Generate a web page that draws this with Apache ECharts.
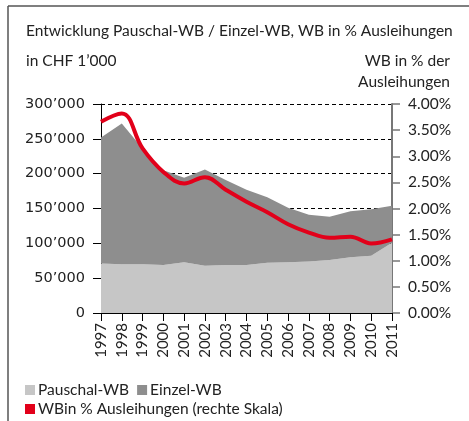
<!DOCTYPE html>
<html>
<head>
<meta charset="utf-8">
<script src="https://cdn.jsdelivr.net/npm/echarts@6/dist/echarts.min.js"></script>
<style>
  html, body { margin: 0; padding: 0; background: #fff; }
  #main { width: 469px; height: 421px; }
</style>
</head>
<body>
<div id="main"></div>
<script>
// Daten
var jahre = ['1997','1998','1999','2000','2001','2002','2003','2004','2005','2006','2007','2008','2009','2010','2011'];
var pauschalWB = [71000, 70000, 70000, 69000, 73000, 68000, 69000, 69000, 72000, 73000, 74000, 76000, 80000, 82000, 101000];
var einzelWB = [181000, 202000, 166000, 136000, 121000, 138000, 122000, 108000, 94000, 78000, 67000, 62000, 66000, 67000, 53000];
var wbProzent = [3.66, 3.82, 3.15, 2.70, 2.48, 2.60, 2.36, 2.13, 1.93, 1.70, 1.54, 1.44, 1.46, 1.33, 1.41];

var schrift = 'Lato';
var textFarbe = '#222';

function tausender(v) {
  // 300000 -> 300’000
  return String(v).replace(/\B(?=(\d{3})+(?!\d))/g, '\u2019');
}

var myChart = echarts.init(document.getElementById('main'));
myChart.setOption({
  animation: false,
  textStyle: { fontFamily: schrift, color: textFarbe },
  title: [
    { text: 'Entwicklung Pauschal-WB / Einzel-WB, WB in % Ausleihungen', left: 21, top: 18,
      textStyle: { fontFamily: schrift, fontSize: 15.5, fontWeight: 'normal', color: textFarbe } },
    { text: 'in CHF 1\u2019000', left: 21, top: 48,
      textStyle: { fontFamily: schrift, fontSize: 15.5, fontWeight: 'normal', color: textFarbe } },
    { text: 'WB in % der', right: 14, top: 48,
      textStyle: { fontFamily: schrift, fontSize: 15.5, fontWeight: 'normal', color: textFarbe } },
    { text: 'Ausleihungen', right: 14, top: 69,
      textStyle: { fontFamily: schrift, fontSize: 15.5, fontWeight: 'normal', color: textFarbe } }
  ],
  graphic: [
    // Rahmen links und oben
    { type: 'line', shape: { x1: 8, y1: 6, x2: 8, y2: 421 }, style: { stroke: '#555', lineWidth: 1.5 } },
    { type: 'line', shape: { x1: 8, y1: 6, x2: 469, y2: 6 }, style: { stroke: '#555', lineWidth: 1.5 } }
  ],
  legend: [
    { data: ['Pauschal-WB', 'Einzel-WB'], left: 20, top: 377, icon: 'rect',
      itemWidth: 10, itemHeight: 10, itemGap: 8,
      textStyle: { fontFamily: schrift, fontSize: 15.5, color: textFarbe, padding: [0, 0, 0, -2] } },
    { data: ['WBin % Ausleihungen (rechte Skala)'], left: 20, top: 396, icon: 'rect',
      itemWidth: 10, itemHeight: 10,
      textStyle: { fontFamily: schrift, fontSize: 15.5, color: textFarbe, padding: [0, 0, 0, -2] } }
  ],
  grid: { left: 101, right: 77, top: 104, bottom: 108, containLabel: false },
  xAxis: {
    type: 'category',
    data: jahre,
    boundaryGap: false,
    axisLine: { lineStyle: { color: '#000', width: 1 } },
    axisTick: { alignWithLabel: true, length: 8, lineStyle: { color: '#000' } },
    axisLabel: { rotate: 90, fontSize: 15, color: textFarbe, margin: 10, fontFamily: schrift }
  },
  yAxis: [
    {
      type: 'value', min: 0, max: 300000, interval: 50000,
      axisLine: { show: true, lineStyle: { color: '#000', width: 1 } },
      axisTick: { show: true, length: 8, lineStyle: { color: '#000' } },
      axisLabel: { fontSize: 14.5, color: textFarbe, margin: 16, fontFamily: 'DejaVu Sans', formatter: tausender },
      splitLine: { show: true, lineStyle: { color: '#000', type: [4, 3], width: 1 } }
    },
    {
      type: 'value', min: 0, max: 4, interval: 0.5,
      axisLine: { show: true, lineStyle: { color: '#777', width: 2 } },
      axisTick: { show: true, length: 8, lineStyle: { color: '#777', width: 1.5 } },
      axisLabel: { fontSize: 15.5, color: textFarbe, margin: 16, fontFamily: schrift,
        formatter: function (v) { return v.toFixed(2) + '%'; } },
      splitLine: { show: false }
    }
  ],
  series: [
    {
      name: 'Pauschal-WB', type: 'line', stack: 'wb', data: pauschalWB,
      showSymbol: false, symbol: 'none',
      lineStyle: { width: 0 }, itemStyle: { color: '#c6c6c6' },
      areaStyle: { color: '#c6c6c6', opacity: 1 }, z: 1
    },
    {
      name: 'Einzel-WB', type: 'line', stack: 'wb', data: einzelWB,
      showSymbol: false, symbol: 'none',
      lineStyle: { width: 0 }, itemStyle: { color: '#8e8e8e' },
      areaStyle: { color: '#8e8e8e', opacity: 1 }, z: 1
    },
    {
      name: 'WBin % Ausleihungen (rechte Skala)', type: 'line', yAxisIndex: 1, data: wbProzent,
      smooth: 0.4, showSymbol: false, symbol: 'none',
      lineStyle: { width: 4, color: '#e2001a' }, itemStyle: { color: '#e2001a' }, z: 5
    }
  ]
});
</script>
</body>
</html>
